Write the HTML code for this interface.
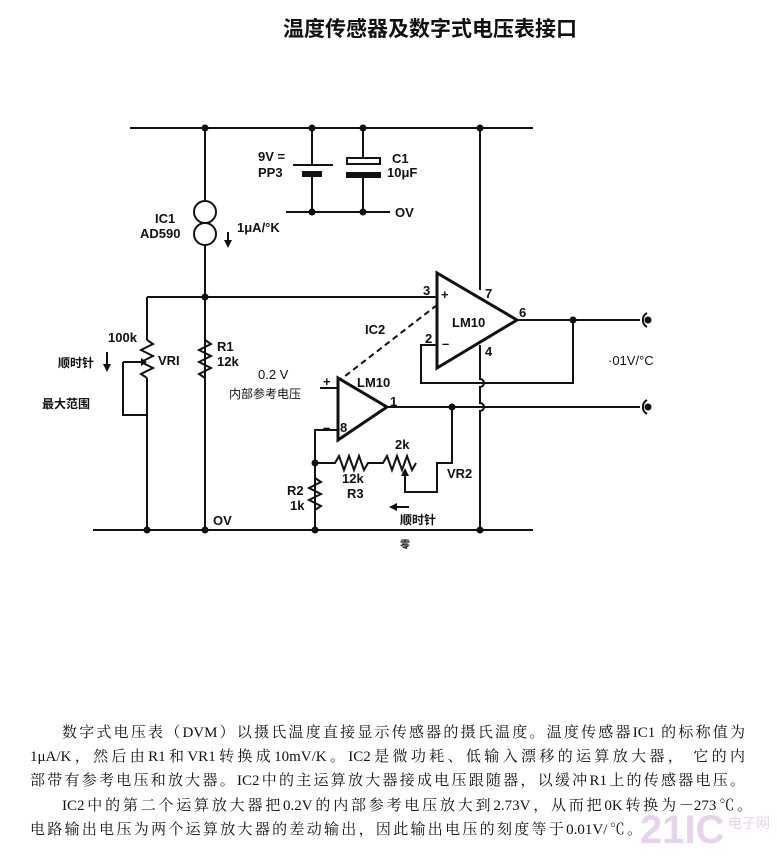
<!DOCTYPE html>
<html><head><meta charset="utf-8"><style>
body{margin:0;background:#fff;width:777px;height:859px;overflow:hidden;position:relative;font-family:"Liberation Sans","Noto Sans CJK SC",sans-serif}
.t{position:absolute;font-family:"Liberation Serif","Noto Serif CJK SC",serif;font-size:15px;color:#111;white-space:nowrap;text-align:justify;text-align-last:justify}
</style></head><body>
<svg width="777" height="859" style="position:absolute;left:0;top:0" font-family="Liberation Sans, Noto Sans CJK SC, sans-serif" font-weight="bold" fill="#111">
<text x="430" y="36" font-size="21" text-anchor="middle">温度传感器及数字式电压表接口</text>
<g stroke="#111" stroke-width="2" fill="none">
<path d="M130 128H533"/>
<path d="M205 128V200M205 245V530"/>
<path d="M312 128V165M312 174V212M363 128V161M363 177V212M286 212H390"/>
<path d="M293 165H333"/>
<path d="M480 128V290"/>
<path d="M147 297H437"/>
<path d="M147 297V340M147 378V530"/>
<path d="M147 340l6 4l-12 6l12 6l-12 6l12 6l-12 6l6 4"/>
<path d="M123 362H141M123 362V415H147"/>
<path d="M205 340l6 4l-12 6l12 6l-12 6l12 6l-12 6l6 4"/>
<path d="M437 273V368L517 320Z" stroke-width="3"/>
<path d="M480 345V379a4 4 0 0 1 0 8V403a4 4 0 0 1 0 8V530"/>
<path d="M517 320H640M573 320V383H421V345H437"/>
<path d="M437 305L340 380" stroke-dasharray="6,4"/>
<path d="M338 378V440L387 407Z" stroke-width="3"/>
<path d="M320 388H338M338 430H315V530"/>
<path d="M315 478l6 4l-12 6l12 6l-12 6l12 6l-6 4"/>
<path d="M387 407H640"/>
<path d="M315 463H335l4 -7l5 14l5 -14l5 14l5 -14l5 14l4 -7H383l4 -7l5 14l5 -14l5 14l5 -14l5 14l4 -7"/>
<path d="M452 407V463H437V492H405V474"/>
<path d="M93 530H533"/>
<path d="M647 313a8 8 0 0 0 0 14M647 400a8 8 0 0 0 0 14"/>
</g>
<g stroke="none" fill="#111">
<rect x="302" y="171" width="20" height="6"/>
<rect x="347" y="158" width="33" height="6" fill="#fff" stroke="#111" stroke-width="2"/>
<rect x="346" y="172" width="35" height="6"/>
<circle cx="205" cy="212" r="11" fill="none" stroke="#111" stroke-width="2"/>
<circle cx="205" cy="234" r="11" fill="none" stroke="#111" stroke-width="2"/>
<circle cx="205" cy="128" r="3.5"/><circle cx="312" cy="128" r="3.5"/><circle cx="363" cy="128" r="3.5"/><circle cx="480" cy="128" r="3.5"/>
<circle cx="312" cy="212" r="3.5"/><circle cx="363" cy="212" r="3.5"/><circle cx="205" cy="297" r="3.5"/>
<circle cx="573" cy="320" r="3.5"/><circle cx="452" cy="407" r="3.5"/><circle cx="315" cy="463" r="3.5"/>
<circle cx="147" cy="530" r="3.5"/><circle cx="205" cy="530" r="3.5"/><circle cx="315" cy="530" r="3.5"/><circle cx="480" cy="530" r="3.5"/>
<circle cx="648" cy="320" r="3.5"/><circle cx="648" cy="407" r="3.5"/>
<path d="M141 358l6 4l-6 4Z"/>
<path d="M401 476l4 -8l4 8Z"/>
<path d="M228 232v10" stroke="#111" stroke-width="2"/><path d="M224 240l4 8l4 -8Z"/>
<path d="M107 352v14" stroke="#111" stroke-width="2"/><path d="M103 364l4 8l4 -8Z"/>
<path d="M395 507h14" stroke="#111" stroke-width="2"/><path d="M397 503l-8 4l8 4Z"/>
</g>
<g font-size="13">
<text x="258" y="161">9V =</text><text x="258" y="177">PP3</text>
<text x="392" y="163">C1</text><text x="387" y="177">10μF</text>
<text x="395" y="217">OV</text>
<text x="155" y="223">IC1</text><text x="140" y="238">AD590</text>
<text x="237" y="232">1μA/°K</text>
<text x="423" y="295">3</text><text x="441" y="299">+</text>
<text x="485" y="298">7</text><text x="452" y="327">LM10</text>
<text x="519" y="317">6</text>
<text x="425" y="343">2</text><text x="442" y="348">–</text>
<text x="485" y="356">4</text>
<text x="365" y="334">IC2</text>
<text x="108" y="342">100k</text><text x="158" y="365">VRI</text>
<text x="217" y="351">R1</text><text x="217" y="366">12k</text>
<text x="258" y="379" font-weight="normal">0.2 V</text>
<text x="229" y="398" font-weight="normal" font-size="12">内部参考电压</text>
<text x="323" y="386">+</text><text x="357" y="387">LM10</text>
<text x="390" y="406">1</text>
<text x="323" y="432">–</text><text x="340" y="432">8</text>
<text x="395" y="449">2k</text>
<text x="342" y="483">12k</text><text x="347" y="498">R3</text>
<text x="447" y="478">VR2</text>
<text x="287" y="495">R2</text><text x="290" y="510">1k</text>
<text x="213" y="525">OV</text>
<text x="400" y="524" font-size="12">顺时针</text>
<text x="58" y="367" font-size="12">顺时针</text>
<text x="42" y="408" font-size="12">最大范围</text>
<text x="608" y="365" font-weight="normal">·01V/°C</text>
<text x="400" y="548" font-size="10">零</text>
</g>
</svg>
<div class="t" style="top:721px;left:62px;width:683px">数字式电压表（DVM）以摄氏温度直接显示传感器的摄氏温度。温度传感器IC1 的标称值为</div>
<div class="t" style="top:745px;left:30px;width:715px">1μA/K，然后由R1和VR1转换成10mV/K。IC2是微功耗、低输入漂移的运算放大器， 它的内</div>
<div class="t" style="top:769px;left:30px;width:715px">部带有参考电压和放大器。IC2中的主运算放大器接成电压跟随器，以缓冲R1上的传感器电压。</div>
<div class="t" style="top:794px;left:62px;width:690px">IC2中的第二个运算放大器把0.2V的内部参考电压放大到2.73V，从而把0K转换为－273℃。</div>
<div class="t" style="top:818px;left:30px;width:612px">电路输出电压为两个运算放大器的差动输出，因此输出电压的刻度等于0.01V/℃。</div>
<div style="position:absolute;left:640px;top:808px;font:bold 40px 'Liberation Sans',sans-serif;color:#e6d3ec">21IC</div>
<div style="position:absolute;left:728px;top:813px;font:14px 'Noto Sans CJK SC',sans-serif;color:#e6d3ec">电子网</div>
</body></html>
